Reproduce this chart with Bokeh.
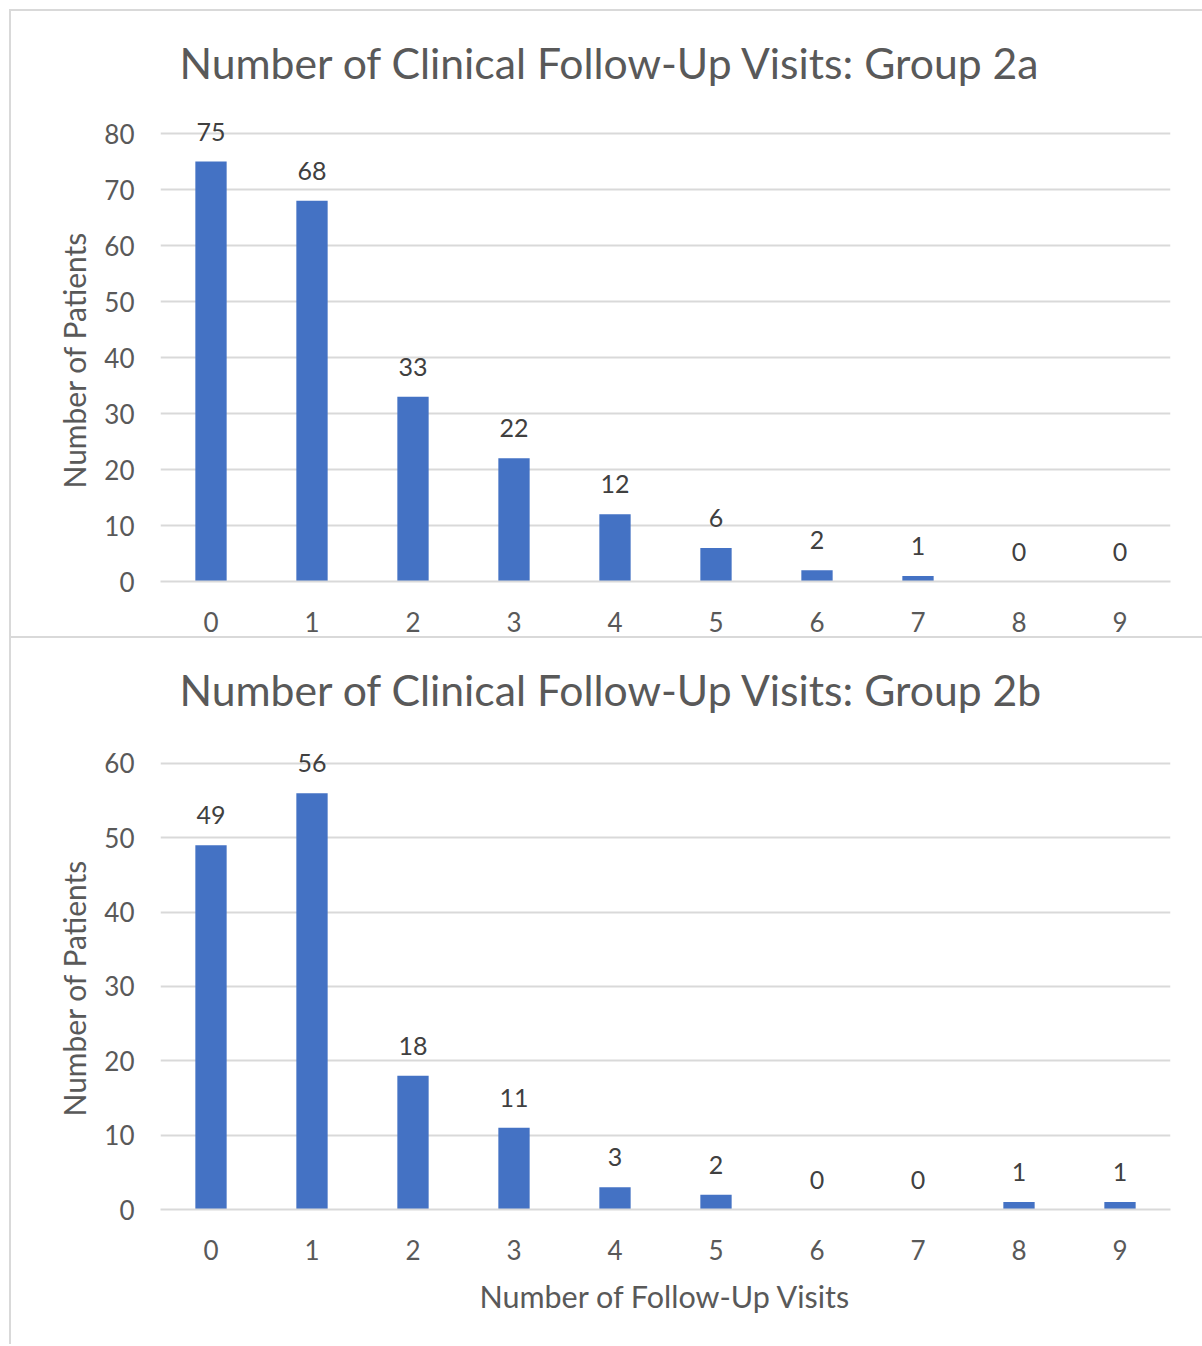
from bokeh.plotting import figure
from bokeh.layouts import column
from bokeh.models import ColumnDataSource, FixedTicker, Title
from bokeh.core.properties import value
from bokeh.embed import file_html
from bokeh.resources import INLINE

visits = [0, 1, 2, 3, 4, 5, 6, 7, 8, 9]
group_2a = [75, 68, 33, 22, 12, 6, 2, 1, 0, 0]
group_2b = [49, 56, 18, 11, 3, 2, 0, 0, 1, 1]
title_2a = "Number of Clinical Follow-Up Visits: Group 2a"
title_2b = "Number of Clinical Follow-Up Visits: Group 2b"
y_label = "Number of Patients"
x_label = "Number of Follow-Up Visits"

FONT = "Lato"
BLUE = "#4472C4"
GRID = "#d9d9d9"
TXT = "#595959"
LBL = "#404040"
BORDER = "2px solid #d9d9d9"


def make_chart(vals, title, ymax, height, top_px, grid_top_px, bottom_px, xlabel,
               styles, margin):
    # vertical scale: ymax gridline at grid_top_px, 0 at plot bottom; frame extends above
    frame_h = height - top_px - bottom_px
    y_end = ymax * frame_h / (frame_h - (grid_top_px - top_px))
    p = figure(width=1193, height=height, output_backend="svg", toolbar_location=None,
               x_range=(-0.5, 9.5), y_range=(0, y_end),
               min_border_left=149, min_border_right=34,
               min_border_top=top_px, min_border_bottom=bottom_px,
               outline_line_color=None, styles=styles, margin=margin)
    src = ColumnDataSource(dict(x=visits, y=vals, t=[str(v) for v in vals]))
    p.vbar(x="x", top="y", width=0.31, source=src, fill_color=BLUE, line_color=None)
    p.text(x="x", y="y", text="t", source=src, text_align="center", text_baseline="middle",
           y_offset=-30, text_font=value(FONT), text_font_size="25px", text_color=LBL)
    p.xgrid.visible = False
    p.ygrid.grid_line_color = GRID
    p.ygrid.grid_line_width = 2
    p.yaxis.ticker = FixedTicker(ticks=list(range(0, ymax + 1, 10)))
    p.xaxis.ticker = FixedTicker(ticks=visits)
    for ax in (p.xaxis[0], p.yaxis[0]):
        ax.major_tick_line_color = None
        ax.minor_tick_line_color = None
        ax.major_label_text_font = FONT
        ax.major_label_text_font_size = "26px"
        ax.major_label_text_color = TXT
        ax.axis_label_text_font = FONT
        ax.axis_label_text_font_style = "normal"
        ax.axis_label_text_color = TXT
        ax.axis_label_text_font_size = "30.5px"
    p.yaxis.axis_line_color = None
    p.xaxis.axis_line_color = GRID
    p.xaxis.axis_line_width = 2
    p.yaxis.major_label_standoff = 20
    p.xaxis.major_label_standoff = 24
    if xlabel:
        p.xaxis.axis_label = xlabel
        p.xaxis.axis_label_standoff = 15
    # y-axis title, placed in the left panel so it is centred on the 0..ymax span
    p.add_layout(Title(text=y_label, align="left", offset=93, standoff=20,
                       text_font=FONT, text_font_size="30px", text_color=TXT,
                       text_font_style="normal"), "left")
    p.add_layout(Title(text=title, align="left", offset=19, standoff=46,
                       text_font=FONT, text_font_size="42.7px", text_color=TXT,
                       text_font_style="normal"), "above")
    return p


p1 = make_chart(group_2a, title_2a, 80, 629, 99, 122, 59, None,
                {"border-top": BORDER, "border-left": BORDER, "border-bottom": BORDER},
                (9, 0, 0, 9))
p2 = make_chart(group_2b, title_2b, 60, 706, 97, 123, 135, x_label,
                {"border-left": BORDER}, (0, 0, 0, 9))

layout = column(p1, p2, spacing=0)
open("out.html", "w").write(file_html(layout, INLINE))
